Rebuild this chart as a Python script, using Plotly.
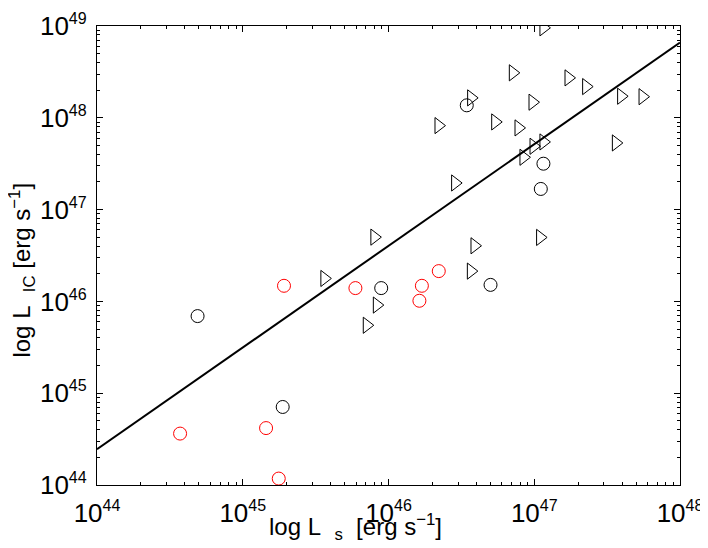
import plotly.graph_objects as go

# log10 values
red_logx = [44.57, 45.283, 45.16, 45.247, 45.773, 46.229, 46.212, 46.345]
red_logy = [44.56, 46.17, 44.62, 44.07, 46.145, 46.17, 46.007, 46.33]

blk_circ_logx = [44.69, 45.274, 45.95, 46.70, 46.537, 47.063, 47.045]
blk_circ_logy = [45.84, 44.85, 46.145, 46.18, 48.136, 47.50, 47.225]

tri_logx = [45.56, 45.92, 45.851, 47.063, 46.853, 47.235, 47.356, 46.567, 46.988,
            47.596, 47.743, 46.343, 46.732, 46.892, 47.063, 46.995, 46.926, 47.56,
            46.457, 45.903, 47.04, 46.59, 46.565]
tri_logy = [46.25, 45.96, 45.74, 48.98, 48.49, 48.435, 48.34, 48.217, 48.17,
            48.235, 48.23, 47.915, 47.955, 47.89, 47.737, 47.69, 47.57, 47.726,
            47.29, 46.70, 46.697, 46.606, 46.33]

fit_logx = [44.0, 48.0]
fit_logy = [44.39, 48.82]

x_tick_exp = [44, 45, 46, 47, 48]
y_tick_exp = [44, 45, 46, 47, 48, 49]
minor_mult = [2, 3, 4, 5, 6, 7, 8, 9]

def p10(a):
    return [10.0 ** float(v) for v in a]

def minor_vals(exps):
    return [m * 10.0 ** float(e) for e in exps[:-1] for m in minor_mult]

def tick_text(exps):
    return [f"10<sup><span style='font-size:16px'>{e}</span></sup>" for e in exps]

FONT = "Liberation Sans, Arial, Helvetica, sans-serif"

fig = go.Figure()
fig.add_trace(go.Scatter(x=p10(fit_logx), y=p10(fit_logy), mode="lines",
                         line=dict(color="black", width=2), showlegend=False))
fig.add_trace(go.Scatter(x=p10(tri_logx), y=p10(tri_logy), mode="markers",
                         marker=dict(symbol="triangle-right-open", size=14,
                                     color="black", line=dict(width=1)),
                         showlegend=False))
fig.add_trace(go.Scatter(x=p10(blk_circ_logx), y=p10(blk_circ_logy), mode="markers",
                         marker=dict(symbol="circle-open", size=13,
                                     color="black", line=dict(width=1)),
                         showlegend=False))
fig.add_trace(go.Scatter(x=p10(red_logx), y=p10(red_logy), mode="markers",
                         marker=dict(symbol="circle-open", size=13,
                                     color="red", line=dict(width=1)),
                         showlegend=False))

axis_common = dict(
    type="log", showgrid=False, zeroline=False, automargin=False,
    showline=True, linecolor="black", linewidth=1.3, mirror="ticks",
    ticks="inside", ticklen=6, tickcolor="black", tickwidth=1,
    tickfont=dict(family=FONT, size=26, color="black"),
    tickmode="array",
)

fig.update_xaxes(range=[44, 48],
                 tickvals=p10(x_tick_exp),
                 ticktext=tick_text(x_tick_exp),
                 ticklabelstandoff=5,
                 minor=dict(ticks="inside", ticklen=3, tickcolor="black", tickwidth=1,
                            tickmode="array", tickvals=minor_vals(x_tick_exp),
                            showgrid=False),
                 **axis_common)
fig.update_yaxes(range=[44, 49],
                 tickvals=p10(y_tick_exp),
                 ticktext=tick_text(y_tick_exp),
                 ticklabelstandoff=4,
                 minor=dict(ticks="inside", ticklen=3, tickcolor="black", tickwidth=1,
                            tickmode="array", tickvals=minor_vals(y_tick_exp),
                            showgrid=False),
                 **axis_common)

NB = "\u00a0"
fig.add_annotation(text=f"log L{NB}{NB}<sub>s</sub>{NB}{NB}[erg s<sup>−1</sup>]",
                   xref="paper", yref="paper", x=0.444, y=-0.091,
                   xanchor="center", yanchor="middle", showarrow=False,
                   font=dict(family=FONT, size=24, color="black"))
fig.add_annotation(text=f"log L{NB}{NB}<sub>IC</sub>{NB}[erg s<sup>−1</sup>]",
                   xref="paper", yref="paper", x=-0.128, y=0.468,
                   xanchor="center", yanchor="middle", showarrow=False,
                   textangle=-90,
                   font=dict(family=FONT, size=24, color="black"))

# the page adds an 8 px body margin, so the figure is 8 px smaller each way
fig.update_layout(width=700, height=540,
                  margin=dict(l=89, r=28, t=18, b=63, autoexpand=False),
                  plot_bgcolor="white", paper_bgcolor="white",
                  font=dict(family=FONT, color="black"))

fig.write_html("out.html")
